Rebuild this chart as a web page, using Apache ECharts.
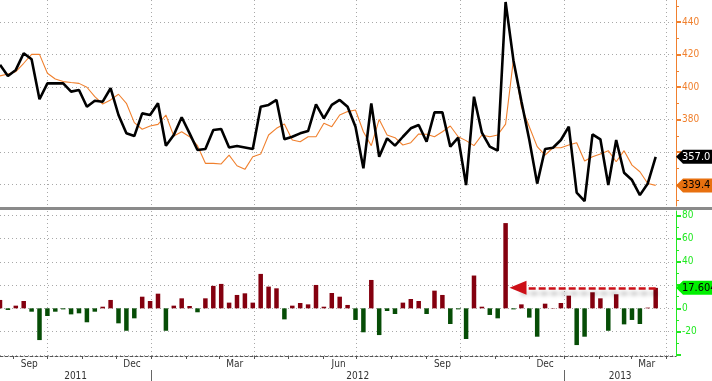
<!DOCTYPE html>
<html><head><meta charset="utf-8">
<script src="https://cdn.jsdelivr.net/npm/echarts@6/dist/echarts.min.js"></script>
<style>html,body{margin:0;padding:0;background:#fff;overflow:hidden}#c{width:712px;height:381px}</style>
</head><body><div id="c"></div>
<script>
// ---- data (weekly, week-ending Saturday) ----
const weekDates = [
 '2011-08-20','2011-08-27','2011-09-03','2011-09-10','2011-09-17','2011-09-24','2011-10-01','2011-10-08','2011-10-15','2011-10-22',
 '2011-10-29','2011-11-05','2011-11-12','2011-11-19','2011-11-26','2011-12-03','2011-12-10','2011-12-17','2011-12-24','2011-12-31',
 '2012-01-07','2012-01-14','2012-01-21','2012-01-28','2012-02-04','2012-02-11','2012-02-18','2012-02-25','2012-03-03','2012-03-10',
 '2012-03-17','2012-03-24','2012-03-31','2012-04-07','2012-04-14','2012-04-21','2012-04-28','2012-05-05','2012-05-12','2012-05-19',
 '2012-05-26','2012-06-02','2012-06-09','2012-06-16','2012-06-23','2012-06-30','2012-07-07','2012-07-14','2012-07-21','2012-07-28',
 '2012-08-04','2012-08-11','2012-08-18','2012-08-25','2012-09-01','2012-09-08','2012-09-15','2012-09-22','2012-09-29','2012-10-06',
 '2012-10-13','2012-10-20','2012-10-27','2012-11-03','2012-11-10','2012-11-17','2012-11-24','2012-12-01','2012-12-08','2012-12-15',
 '2012-12-22','2012-12-29','2013-01-05','2013-01-12','2013-01-19','2013-01-26','2013-02-02','2013-02-09','2013-02-16','2013-02-23',
 '2013-03-02','2013-03-09','2013-03-16','2013-03-23'];
const claims = [
 413.7,406.9,410.6,420.9,417.2,392.5,402.3,402.3,402.3,397.2,
 398.2,387.9,391.6,391.0,399.3,382.8,371.5,369.8,383.8,382.8,
 390.0,363.9,370.5,381.4,371.5,361.2,361.8,373.5,374.2,362.8,
 363.7,362.8,361.8,387.9,389.0,392.1,367.8,369.4,371.5,372.9,
 389.4,380.7,389.0,392.1,387.9,375.6,349.9,390.0,357.1,368.4,
 363.9,369.4,374.6,376.6,366.3,384.4,384.4,363.3,368.8,339.6,
 394.1,371.9,363.3,360.8,452.5,416.3,391.3,367.6,340.5,361.8,
 362.6,367.4,375.6,334.9,329.7,370.9,367.8,339.6,367.4,347.2,
 342.7,333.4,340.6,357.0];
const avg4w = [
 406.9,408.1,409.5,414.7,420.2,420.2,408.5,405.0,403.4,402.8,
 402.3,399.9,394.1,389.6,392.1,395.6,390.0,378.1,374.0,376.0,
 377.0,382.8,369.8,372.5,369.4,363.9,353.0,353.0,352.6,358.1,
 351.5,349.3,357.1,358.7,370.5,374.6,377.2,367.4,366.3,369.4,
 369.4,377.7,375.6,382.8,384.9,385.9,372.5,363.9,380.1,370.5,
 368.8,364.3,365.7,371.1,370.9,369.4,372.5,376.0,369.4,367.0,
 363.9,370.5,369.4,370.5,377.2,417.2,387.9,375.6,363.3,358.1,
 362.6,362.6,364.3,365.7,354.4,357.1,358.7,360.8,354.0,360.8,
 351.9,347.8,340.6,339.4];
const diff = [
 7.2,-1.4,2.3,6.3,-2.9,-27.3,-6.6,-2.9,-0.9,-5.2,
 -4.3,-12.0,-2.9,1.4,7.2,-12.9,-19.3,-8.6,10.0,6.3,
 12.6,-19.3,2.3,8.6,2.0,-3.4,8.6,19.3,21.0,4.9,
 11.5,12.9,4.9,29.6,18.7,17.2,-9.5,2.3,4.6,3.4,
 20.1,1.4,13.2,10.0,2.9,-10.0,-20.6,24.4,-23.0,-2.3,
 -4.9,4.9,8.0,6.3,-4.9,15.2,11.5,-13.5,-0.9,-26.4,
 28.2,1.4,-5.7,-8.6,73.3,-0.9,3.4,-8.0,-24.4,4.0,
 0.3,4.6,10.9,-31.6,-24.4,13.8,8.6,-19.3,12.1,-13.8,
 -10.0,-13.5,0.6,17.604];

// ---- axis ticks / labels ----
const quarterDates = ['2011-10-01','2012-01-01','2012-04-01','2012-07-01','2012-10-01','2013-01-01','2013-04-01'];
const monthTickDates = ['2011-09-01','2011-10-01','2011-11-01','2011-12-01','2012-01-01','2012-02-01','2012-03-01','2012-04-01',
 '2012-05-01','2012-06-01','2012-07-01','2012-08-01','2012-09-01','2012-10-01','2012-11-01','2012-12-01','2013-01-01',
 '2013-02-01','2013-03-01','2013-04-01'];
const monthLabelDates = ['2011-09-15','2011-12-15','2012-03-15','2012-06-15','2012-09-15','2012-12-15','2013-03-15'];
const monthLabels = ['Sep','Dec','Mar','Jun','Sep','Dec','Mar'];
const yearSeparatorDates = ['2012-01-01','2013-01-01'];
const yearLabels = ['2011','2012','2013'];
const topTicks = [340,360,380,400,420,440];
const topLabels = [380,400,420,440];
const topMinorTicks = [330,350,370,390,410,430,450];
const bottomTicks = [-40,-20,0,20,40,60,80];
const bottomLabels = [-20,0,40,60,80];
const bottomMinorTicks = [-30,-10,10,30,50,70];

const T = s => Date.parse(s + 'T00:00:00Z');
const xMin = T('2011-08-20'), xMax = T('2013-04-10');
const DAY = 86400000;

const bounds = [xMin].concat(yearSeparatorDates.map(T)).concat([xMax]);
const yearLabelPos = yearLabels.map((_, i) => (bounds[i] + bounds[i + 1]) / 2);

const nearestLabel = (v, poss, labels) => {
  let bi = 0, bd = Infinity;
  poss.forEach((p, i) => { const d = Math.abs(p - v); if (d < bd) { bd = d; bi = i; } });
  return labels[bi];
};
const mPos = monthLabelDates.map(T);

const FONT = "'Liberation Sans Narrow', 'DejaVu Sans Condensed', 'Liberation Sans', sans-serif";
const ORANGE = '#f0802e', GREEN = '#22e822';
const gridLine = { show: true, lineStyle: { color: '#a8a8a8', type: [1, 3], width: 1 } };

const claimsData = weekDates.map((d, i) => [T(d), claims[i]]);
const avgData = weekDates.map((d, i) => [T(d), avg4w[i]]);
const diffData = weekDates.map((d, i) => [T(d), diff[i]]);
const last = weekDates.length - 1;
const tagPath = 'path://M0,7L7,0L44,0L44,14L7,14Z';

const xBase = { type: 'value', min: xMin, max: xMax, position: 'bottom', scale: true };

const chart = echarts.init(document.getElementById('c'), null, { renderer: 'canvas' });
chart.setOption({
  animation: false,
  backgroundColor: '#fff',
  grid: [
    { left: 0, right: 36, top: 0, height: 206, outerBoundsMode: 'none' },
    { left: 0, right: 36, top: 211, height: 145, outerBoundsMode: 'none' }
  ],
  xAxis: [
    Object.assign({}, xBase, { gridIndex: 0,
      axisLine: { show: false }, axisTick: { show: false, customValues: quarterDates.map(T) },
      axisLabel: { show: false }, splitLine: gridLine }),
    Object.assign({}, xBase, { gridIndex: 1,
      axisLine: { show: true, onZero: false, lineStyle: { color: '#555', type: [3, 2], width: 1 } },
      axisTick: { show: true, customValues: monthTickDates.map(T), length: 3, lineStyle: { color: '#555' } },
      axisLabel: { show: true, customValues: mPos, margin: 3, color: '#333', fontSize: 10, fontFamily: FONT,
        formatter: v => nearestLabel(v, mPos, monthLabels) },
      splitLine: { show: false } }),
    Object.assign({}, xBase, { gridIndex: 1,
      axisLine: { show: false }, axisTick: { show: false, customValues: quarterDates.map(T) },
      axisLabel: { show: false }, splitLine: gridLine }),
    Object.assign({}, xBase, { gridIndex: 1, offset: 14,
      axisLine: { show: false, onZero: false },
      axisTick: { show: true, customValues: yearSeparatorDates.map(T), length: 12, lineStyle: { color: '#666' } },
      axisLabel: { show: true, customValues: yearLabelPos, margin: 1, color: '#333', fontSize: 10, fontFamily: FONT,
        formatter: v => nearestLabel(v, yearLabelPos, yearLabels) },
      splitLine: { show: false } })
  ],
  yAxis: [
    { gridIndex: 0, type: 'value', position: 'right', min: 326.7, max: 453.7,
      axisLine: { show: true, lineStyle: { color: ORANGE, width: 1 } },
      axisTick: { show: true, customValues: topTicks, length: 5, lineStyle: { color: ORANGE, width: 2 } },
      axisLabel: { show: true, customValues: topLabels, margin: 6, color: ORANGE, fontSize: 10, fontFamily: FONT },
      splitLine: gridLine },
    { gridIndex: 0, type: 'value', position: 'right', min: 326.7, max: 453.7,
      axisLine: { show: false },
      axisTick: { show: true, customValues: topMinorTicks, length: 3, lineStyle: { color: ORANGE, width: 1 } },
      axisLabel: { show: false }, splitLine: { show: false } },
    { gridIndex: 1, type: 'value', position: 'right', min: -41, max: 83.7,
      axisLine: { show: true, lineStyle: { color: GREEN, width: 1 } },
      axisTick: { show: true, customValues: bottomTicks, length: 5, lineStyle: { color: GREEN, width: 2 } },
      axisLabel: { show: true, customValues: bottomLabels, margin: 6, color: GREEN, fontSize: 10, fontFamily: FONT },
      splitLine: gridLine },
    { gridIndex: 1, type: 'value', position: 'right', min: -41, max: 83.7,
      axisLine: { show: false },
      axisTick: { show: true, customValues: bottomMinorTicks, length: 3, lineStyle: { color: GREEN, width: 1 } },
      axisLabel: { show: false }, splitLine: { show: false } }
  ],
  graphic: [
    { type: 'rect', shape: { x: 0, y: 207, width: 712, height: 3 }, style: { fill: '#8a8a8a' }, z: 10 }
  ],
  series: [
    { name: '4-week average', type: 'line', xAxisIndex: 0, yAxisIndex: 0, data: avgData,
      symbol: 'none', lineStyle: { color: ORANGE, width: 1.1 }, z: 2, silent: true,
      markPoint: { symbol: tagPath, symbolSize: [44, 14], symbolOffset: [22, 0], symbolKeepAspect: false,
        silent: true, itemStyle: { color: '#e8700f' },
        label: { show: true, position: 'insideLeft', distance: 6, color: '#000', fontSize: 11, fontFamily: FONT,
          formatter: () => avg4w[last].toFixed(1) },
        data: [{ coord: [xMax, avg4w[last]] }] } },
    { name: 'Initial claims', type: 'line', xAxisIndex: 0, yAxisIndex: 0, data: claimsData,
      symbol: 'none', lineStyle: { color: '#000', width: 2.6 }, z: 3, silent: true,
      markPoint: { symbol: tagPath, symbolSize: [44, 14], symbolOffset: [22, 0], symbolKeepAspect: false,
        silent: true, itemStyle: { color: '#000' },
        label: { show: true, position: 'insideLeft', distance: 6, color: '#fff', fontSize: 11, fontFamily: FONT,
          formatter: () => claims[last].toFixed(1) },
        data: [{ coord: [xMax, claims[last]] }] } },
    { name: 'Difference', type: 'bar', xAxisIndex: 1, yAxisIndex: 2, data: diffData, barWidth: 4.5, silent: true,
      itemStyle: { color: p => (p.value[1] >= 0 ? '#84000f' : '#064d06') },
      markLine: { silent: true, symbol: ['none', 'triangle'], symbolSize: [14, 17],
        lineStyle: { color: '#cc1018', width: 2.7, type: [7, 3], shadowBlur: 4, shadowColor: 'rgba(0,0,0,0.35)', shadowOffsetX: 2, shadowOffsetY: 5 },
        label: { show: false },
        data: [[ { coord: [T(weekDates[last]), diff[last]] }, { coord: [T(weekDates[64]) + 11 * DAY, diff[last]] } ]] },
      markPoint: { symbol: tagPath, symbolSize: [44, 14], symbolOffset: [22, 0], symbolKeepAspect: false,
        silent: true, itemStyle: { color: '#00f000' },
        label: { show: true, position: 'insideLeft', distance: 6, color: '#000', fontSize: 11, fontFamily: FONT,
          formatter: () => diff[last].toFixed(3) },
        data: [{ coord: [xMax, diff[last]] }] } }
  ]
});
</script>
</body></html>
